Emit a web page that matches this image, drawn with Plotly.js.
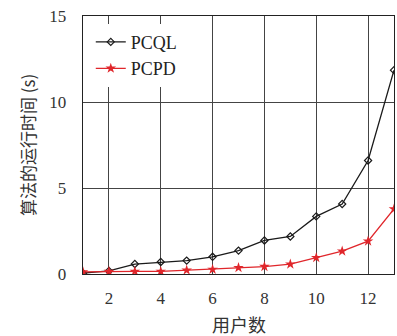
<!DOCTYPE html>
<html><head><meta charset="utf-8">
<script src="https://cdn.plot.ly/plotly-3.0.1.min.js"></script>
<style>html,body{margin:0;padding:0;background:#fff;}</style>
</head><body>
<div id="chart" style="width:397px;height:336px;"></div>
<script>
const users = [1,2,3,4,5,6,7,8,9,10,11,12,13];
const pcql = [0.05,0.18,0.58,0.7,0.78,1.0,1.36,1.95,2.18,3.35,4.07,6.6,11.85];
const pcpd = [0.12,0.15,0.15,0.15,0.22,0.27,0.37,0.43,0.57,0.95,1.33,1.91,3.78];
const xTicks = [2,4,6,8,10,12];
const yTicks = [0,5,10,15];
const xTitle = '用户数';
const yTitle = '算法的运行时间 (s)';
const serif = "'Liberation Serif', 'DejaVu Serif', serif";
const cjk = "'Noto Sans CJK SC', sans-serif";
const traces = [
  {x: users, y: pcql, name: 'PCQL', mode: 'lines+markers',
   line: {color: '#1a1a1a', width: 1.3},
   marker: {symbol: 'diamond-open', size: 5.5, color: '#1a1a1a', line: {width: 1.2}}},
  {x: users, y: pcpd, name: 'PCPD', mode: 'lines+markers',
   line: {color: '#e0262b', width: 1.3},
   marker: {symbol: 'star', size: 8, color: '#e0262b'}}
];
const layout = {
  width: 397, height: 336,
  margin: {l: 83, r: 3, t: 16, b: 62},
  paper_bgcolor: '#fff', plot_bgcolor: '#fff',
  font: {family: serif, color: '#222', size: 15},
  showlegend: true,
  legend: {x: 0.025, y: 0.97, xanchor: 'left', yanchor: 'top', bgcolor: 'rgba(255,255,255,1)',
           font: {family: serif, size: 18, color: '#222', weight: 'normal'}, tracegroupgap: 2, itemwidth: 30},
  xaxis: {range: [1, 13], tickvals: xTicks, ticks: '', showgrid: true, gridcolor: '#444',
          gridwidth: 1, zeroline: false, showline: true, mirror: true, ticklabelstandoff: 8,
          linecolor: '#222', linewidth: 1.3, tickfont: {family: serif, size: 17, color: '#333'}},
  yaxis: {range: [0, 15], tickvals: yTicks, ticks: '', showgrid: true, gridcolor: '#444',
          gridwidth: 1, zeroline: false, showline: true, mirror: true, ticklabelstandoff: 12,
          linecolor: '#222', linewidth: 1.3, tickfont: {family: serif, size: 17, color: '#333'}},
  annotations: [
    {text: xTitle, xref: 'paper', yref: 'paper', x: 0.5, y: -0.194, xanchor: 'center', yanchor: 'middle',
     showarrow: false, font: {family: cjk, size: 18, color: '#333'}},
    {text: yTitle, xref: 'paper', yref: 'paper', x: -0.18, y: 0.5, xanchor: 'center', yanchor: 'middle',
     textangle: -90, showarrow: false, font: {family: cjk, size: 17, color: '#333'}}
  ]
};
Plotly.newPlot('chart', traces, layout, {displayModeBar: false, staticPlot: true});
</script>
</body></html>
